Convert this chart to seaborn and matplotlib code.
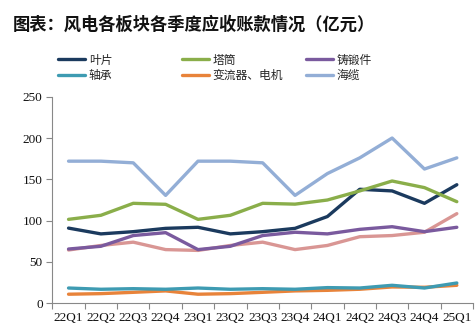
import matplotlib
matplotlib.use("Agg")
import matplotlib.pyplot as plt
import seaborn as sns
import pandas as pd
import numpy as np
from matplotlib.lines import Line2D

quarters = ["22Q1", "22Q2", "22Q3", "22Q4", "23Q1", "23Q2", "23Q3", "23Q4",
            "24Q1", "24Q2", "24Q3", "24Q4", "25Q1"]
yepian = [91, 84, 86.7, 90.7, 92, 84, 86.7, 90.7, 105, 138, 136, 121, 143.5]
tatong = [101.6, 106.5, 121, 119.8, 101.6, 106.5, 121, 120, 125, 136, 148, 140, 123]
zhuduanjian = [65.7, 69, 82, 85.5, 65, 69, 82, 86, 84, 89.5, 92.7, 86.7, 92]
zhoucheng = [18.5, 17, 17.7, 17, 18.5, 17, 17.7, 17, 19, 18.5, 21.8, 18.5, 24.6]
bianliuqi = [11, 11.7, 13.3, 15, 11, 11.7, 13.3, 15, 15.7, 17, 19.8, 19.4, 21.8]
hailan = [172, 172, 170, 130.6, 172, 172, 170, 130.6, 157, 176, 200, 162.5, 176]
other = [64.5, 70, 74, 65, 64, 70, 74, 65, 70, 80.6, 82, 86, 108.5]

series_names = ["叶片", "塔筒", "铸锻件", "轴承", "变流器、电机", "海缆", "其他"]
series_values = [yepian, tatong, zhuduanjian, zhoucheng, bianliuqi, hailan, other]
colors = ["#1B3A5E", "#8AAE4A", "#7A5A9E", "#3E9BB2", "#E8833A", "#93AED6", "#D99694"]

rows = []
for name, vals in zip(series_names, series_values):
    for q, v in zip(quarters, vals):
        rows.append({"quarter": q, "value": v, "series": name})
df = pd.DataFrame(rows)

sns.set_theme(style="white")
plt.rcParams['font.family'] = ['Noto Sans CJK SC', 'DejaVu Sans']

fig = plt.figure(figsize=(4.76, 3.35), dpi=100)
ax = fig.add_axes([0.110, 0.0946, 0.8837, 0.6167])

# draw order
order = ["其他", "变流器、电机", "轴承", "铸锻件", "叶片", "塔筒", "海缆"]
pal = dict(zip(series_names, colors))
for name in order:
    sub = df[df["series"] == name]
    sns.lineplot(data=sub, x="quarter", y="value", color=pal[name], lw=2.4,
                 ax=ax, sort=False, legend=False)

ax.set_xlim(-0.5, len(quarters) - 0.5)
ax.set_ylim(0, 250)
ax.set_yticks([0, 50, 100, 150, 200, 250])
ax.set_xticks(range(len(quarters)))
ax.set_xticklabels(quarters)
ax.set_xticks(np.arange(-0.5, len(quarters), 1.0), minor=True)
ax.tick_params(axis="x", which="major", length=0, pad=6)
ax.tick_params(axis="x", which="minor", length=4, color="#888888", width=0.8, direction="out", bottom=True)
ax.tick_params(axis="y", length=4, color="#888888", width=0.8, direction="out", left=True, pad=3)
for lab in ax.get_xticklabels() + ax.get_yticklabels():
    lab.set_fontfamily("Liberation Serif")
    lab.set_fontsize(9.5)
    lab.set_color("#111111")
ax.set_xlabel("")
ax.set_ylabel("")
for s in ["top", "right"]:
    ax.spines[s].set_visible(False)
for s in ["left", "bottom"]:
    ax.spines[s].set_color("#888888")
    ax.spines[s].set_linewidth(0.8)
ax.grid(False)

fig.text(0.027, 0.926, "图表：风电各板块各季度应收账款情况（亿元）", fontsize=12.45,
         fontweight="bold", ha="left", va="center", color="#111111",
         family=['Noto Sans CJK SC', 'DejaVu Sans'])

legend_cols = [["叶片", "轴承"], ["塔筒", "变流器、电机"], ["铸锻件", "海缆"]]
col_x = [0.122, 0.382, 0.643]
for names, x in zip(legend_cols, col_x):
    handles = [Line2D([0], [0], color=pal[n], lw=2.4) for n in names]
    fig.legend(handles, names, loc="upper left", bbox_to_anchor=(x, 0.840),
               frameon=False, handlelength=2.3, handletextpad=0.3,
               labelspacing=0.22, borderaxespad=0, borderpad=0,
               prop={"family": ['Noto Sans CJK SC', 'DejaVu Sans'], "size": 8.5})

fig.savefig("out.png", dpi=100)
